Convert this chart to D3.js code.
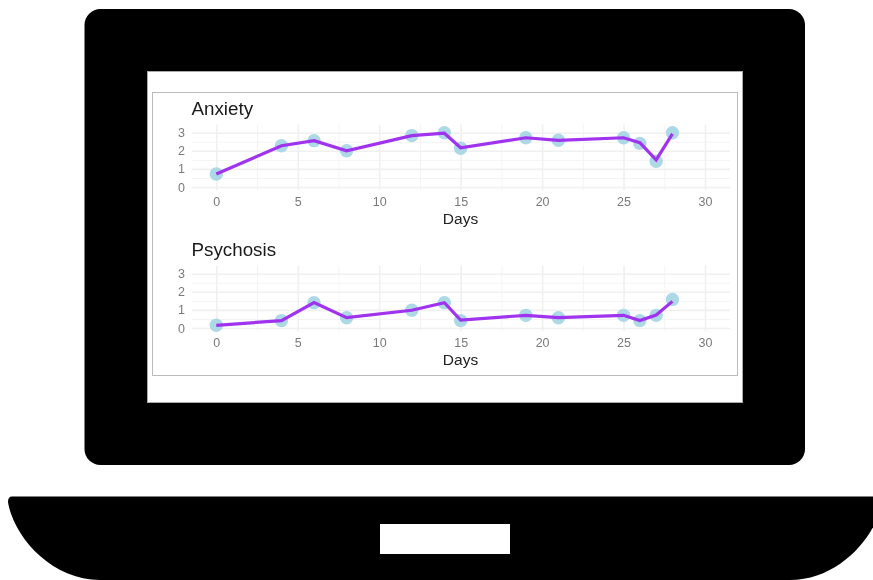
<!DOCTYPE html>
<html>
<head>
<meta charset="utf-8">
<script src="https://cdn.jsdelivr.net/npm/d3@7"></script>
<style>
  html, body { margin: 0; padding: 0; background: #fff; }
  svg { display: block; }
  text { font-family: "Liberation Sans", Arial, sans-serif; }
</style>
</head>
<body>
<div id="chart"></div>
<script>
const days = [0, 4, 6, 8, 12, 14, 15, 19, 21, 25, 26, 27, 28];

// the dots and the line do not sit exactly on each other in the picture
const anxietyDots = [0.72, 2.28, 2.56, 2.0, 2.84, 3.0, 2.14, 2.72, 2.58, 2.72, 2.41, 1.42, 3.0];
const anxietyLine = [0.72, 2.28, 2.56, 2.0, 2.84, 2.97, 2.17, 2.72, 2.58, 2.72, 2.45, 1.5, 2.93];
const psychosisDots = [0.15, 0.41, 1.4, 0.57, 0.98, 1.4, 0.41, 0.7, 0.57, 0.7, 0.41, 0.7, 1.58];
const psychosisLine = [0.15, 0.41, 1.4, 0.57, 0.98, 1.4, 0.44, 0.7, 0.57, 0.7, 0.41, 0.72, 1.47];

const xTicks = [0, 5, 10, 15, 20, 25, 30];
const xMinorTicks = [2.5, 7.5, 12.5, 17.5, 22.5, 27.5];
const yTicks = [0, 1, 2, 3];
const yMinorTicks = [0.5, 1.5, 2.5];

const width = 873;
const height = 580;

const svg = d3.select("#chart").append("svg")
  .attr("width", width)
  .attr("height", height);

// laptop
svg.append("rect")
  .attr("x", 84.5).attr("y", 9)
  .attr("width", 720.5).attr("height", 456)
  .attr("rx", 16)
  .attr("fill", "#000");

svg.append("path")
  .attr("d", "M12,496.5 L878,496.5 Q882,496.5 882,502 C877,535 840,580 790,580 L100,580 C50,580 13,535 8,502 Q8,496.5 12,496.5 Z")
  .attr("fill", "#000");

svg.append("rect")
  .attr("x", 380).attr("y", 524)
  .attr("width", 130).attr("height", 30)
  .attr("fill", "#fff");

svg.append("rect")
  .attr("x", 147.5).attr("y", 71.5)
  .attr("width", 595).attr("height", 331)
  .attr("fill", "#fff")
  .attr("stroke", "#aaa");

svg.append("rect")
  .attr("x", 152.5).attr("y", 92.5)
  .attr("width", 585).attr("height", 283)
  .attr("fill", "#fff")
  .attr("stroke", "#bbb");

const x = d3.scaleLinear().domain([0, 30]).range([216.3, 705]);

function drawPanel(title, dots, lineValues, zeroY) {
  const y = d3.scaleLinear().domain([0, 3]).range([zeroY, zeroY - 54.3]);
  const top = zeroY - 62.5;
  const bottom = zeroY + 3;
  const g = svg.append("g").style("filter", "blur(0.4px)");

  const gridMinorX = g.append("g")
    .attr("transform", `translate(0,${bottom})`)
    .call(d3.axisBottom(x).tickValues(xMinorTicks).tickSize(top - bottom).tickFormat(""));
  const gridMinorY = g.append("g")
    .attr("transform", "translate(192,0)")
    .call(d3.axisLeft(y).tickValues(yMinorTicks).tickSize(-538).tickFormat(""));
  [gridMinorX, gridMinorY].forEach(a => {
    a.select(".domain").remove();
    a.selectAll("line").attr("stroke", "#f4f4f4").attr("stroke-width", 1);
  });

  const gridX = g.append("g")
    .attr("transform", `translate(0,${bottom})`)
    .call(d3.axisBottom(x).tickValues(xTicks).tickSize(top - bottom));
  const gridY = g.append("g")
    .attr("transform", "translate(192,0)")
    .call(d3.axisLeft(y).tickValues(yTicks).tickFormat(d3.format("d")).tickSize(-538));
  [gridX, gridY].forEach(a => {
    a.select(".domain").remove();
    a.selectAll("line").attr("stroke", "#f0f0f0").attr("stroke-width", 1.6);
    a.selectAll("text")
      .attr("fill", "#7a7a7a")
      .style("font-size", "12.5px")
      .style("font-family", '"Liberation Sans", Arial, sans-serif');
  });
  gridX.selectAll("text").attr("y", 7).attr("dy", "0.71em");
  gridY.selectAll("text").attr("x", -7);

  g.selectAll("circle.dot")
    .data(days)
    .enter()
    .append("circle")
    .attr("class", "dot")
    .attr("cx", d => x(d))
    .attr("cy", (d, i) => y(dots[i]))
    .attr("r", 6.7)
    .attr("fill", "#add8e6");

  const line = d3.line()
    .x(d => x(d))
    .y((d, i) => y(lineValues[i]));

  g.append("path")
    .datum(days)
    .attr("d", line)
    .attr("fill", "none")
    .attr("stroke", "#a033ee")
    .attr("stroke-width", 3.2);

  g.append("text")
    .attr("x", 191.5)
    .attr("y", zeroY - 72)
    .attr("fill", "#1a1a1a")
    .style("font-size", "18.8px")
    .text(title);

  g.append("text")
    .attr("x", 460.5)
    .attr("y", zeroY + 37)
    .attr("text-anchor", "middle")
    .attr("fill", "#222")
    .style("font-size", "15.5px")
    .text("Days");
}

drawPanel("Anxiety", anxietyDots, anxietyLine, 187);
drawPanel("Psychosis", psychosisDots, psychosisLine, 328);
</script>
</body>
</html>
